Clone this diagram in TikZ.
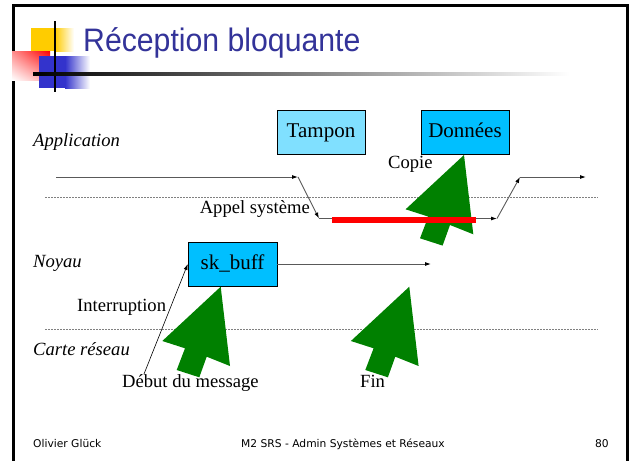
\documentclass[tikz,border=0pt]{standalone}
\usepackage{fontspec}
\setmainfont{Liberation Serif}
\newfontfamily\titlefont{Liberation Sans}
\newfontfamily\footfont{DejaVu Sans}
\usetikzlibrary{arrows.meta}
\usetikzlibrary{shadings}
\definecolor{ttlblue}{RGB}{51,51,153}
\definecolor{lblue}{RGB}{128,224,255}
\definecolor{dblue}{RGB}{0,191,255}
\definecolor{mgreen}{RGB}{0,128,0}
\definecolor{logoyel}{RGB}{255,204,0}
\definecolor{logoblue}{RGB}{51,51,204}
\tikzset{
  buf/.style = {draw, inner sep = 0, minimum width = 88, minimum height = 44,
    text height = 14.7pt, text depth = 4.7pt,
    font = \fontsize{21}{21}\selectfont},
  lbl/.style = {inner sep = 0, font = \fontsize{18.6}{20}\selectfont},
  layer/.style = {lbl, font = \fontsize{18.6}{20}\selectfont\itshape},
  foot/.style = {inner sep = 0, font = \footfont\fontsize{10.7}{12}\selectfont},
  sep/.style = {gray, line width = 0.8, dash pattern = on 2pt off 1pt},
  flow/.style = {gray!70!black, line width = 0.9,
    -{Latex[black, length = 6, width = 4]}},
  intr/.style = {black, line width = 0.6, -{Latex[black, length = 6, width = 4]}},
  redbar/.style = {red, line width = 6},
  uparrow/.pic = {
    \fill [mgreen] (0, 0) -- (-58.4, 54.3) -- (-35.7, 61.6) -- (-44, 83.3)
      -- (-21.4, 90.6) -- (-14, 70) -- (9.3, 79.3) -- cycle;
  }
}

\begin{document}
\begin{tikzpicture}[x = 1pt, y = -1pt]
    \useasboundingbox (0, 0) rectangle (630, 461);

    \draw [line width = 3] (13.5, 461) -- (13.5, 5.5) -- (627, 5.5) -- (627, 461);

    \fill [logoyel] (31, 28) rectangle (55, 51);
    \shade [left color = logoyel, right color = white] (55, 28) rectangle (74, 51);
    \shade [upper right = red, upper left = red!45, lower left = white, lower right = red!35]
      (12, 51) rectangle (50, 80);
    \fill [logoblue] (39, 56) rectangle (65, 88);
    \shade [left color = logoblue, right color = white] (65, 56) rectangle (90, 88);
    \draw [line width = 2] (55, 21) -- (55, 92);
    \shade [left color = black, middle color = gray!60, right color = white]
      (33, 72.5) rectangle (570, 75.5);

    \node [inner sep = 0, anchor = base west, text = ttlblue,
      font = \titlefont\fontsize{32.5}{34}\selectfont] (title) at (83, 51.7)
      {\scalebox{0.93}[1]{Réception bloquante}};

    \draw [sep] (45, 197.5) -- (598, 197.5);
    \draw [sep] (45, 329) -- (598, 329);

    \node [layer, anchor = base west] (app) at (33, 146.7) {Application};
    \node [layer, anchor = base west] (noyau) at (33, 267) {Noyau};
    \node [layer, anchor = base west] (carte) at (33, 355) {Carte réseau};

    \node [buf, fill = lblue] (tampon) at (321, 132) {Tampon};
    \node [buf, fill = dblue] (donnees) at (465, 132) {Données};
    \node [buf, fill = dblue, minimum width = 89] (skbuff) at (232.5, 264) {sk\_buff};

    \coordinate (t0) at (56, 177);
    \coordinate (t1) at (298, 177);
    \coordinate (t2) at (319, 218.5);
    \coordinate (t3) at (497, 218.5);
    \coordinate (t4) at (520, 177);
    \coordinate (t5) at (586, 177);
    \draw [flow] (t0) -- (t1);
    \draw [flow] (t1) -- (t2);
    \draw [flow] (t2) -- (t3);
    \draw [flow] (t3) -- (t4);
    \draw [flow] (t4) -- (t5);

    \coordinate (k1) at (431, 264);
    \draw [flow] (skbuff.east) -- (k1);

    \coordinate (i0) at (144, 374);
    \draw [intr] (i0) -- (skbuff.west);

    \pic at (220.7, 286.7) {uparrow};
    \pic at (409.3, 286.7) {uparrow};
    \pic at (464, 155) {uparrow};

    \coordinate (r0) at (332, 219.5);
    \coordinate (r1) at (476, 219.5);
    \draw [redbar] (r0) -- (r1);

    \node [lbl, anchor = base east] (appel) at (310, 213) {Appel système};
    \node [lbl, anchor = base west] (copie) at (388, 168) {Copie};
    \node [lbl, anchor = base west] (interr) at (77, 311) {Interruption};
    \node [lbl, anchor = base west] (debut) at (122, 387) {Début du message};
    \node [lbl, anchor = base west] (fin) at (360, 387) {Fin};

    \node [foot, anchor = base west] (auteur) at (33, 447) {Olivier Glück};
    \node [foot, anchor = base] (cours) at (343, 447) {M2 SRS - Admin Systèmes et Réseaux};
    \node [foot, anchor = base east] (page) at (609, 447) {80};
  \end{tikzpicture}
\end{document}
